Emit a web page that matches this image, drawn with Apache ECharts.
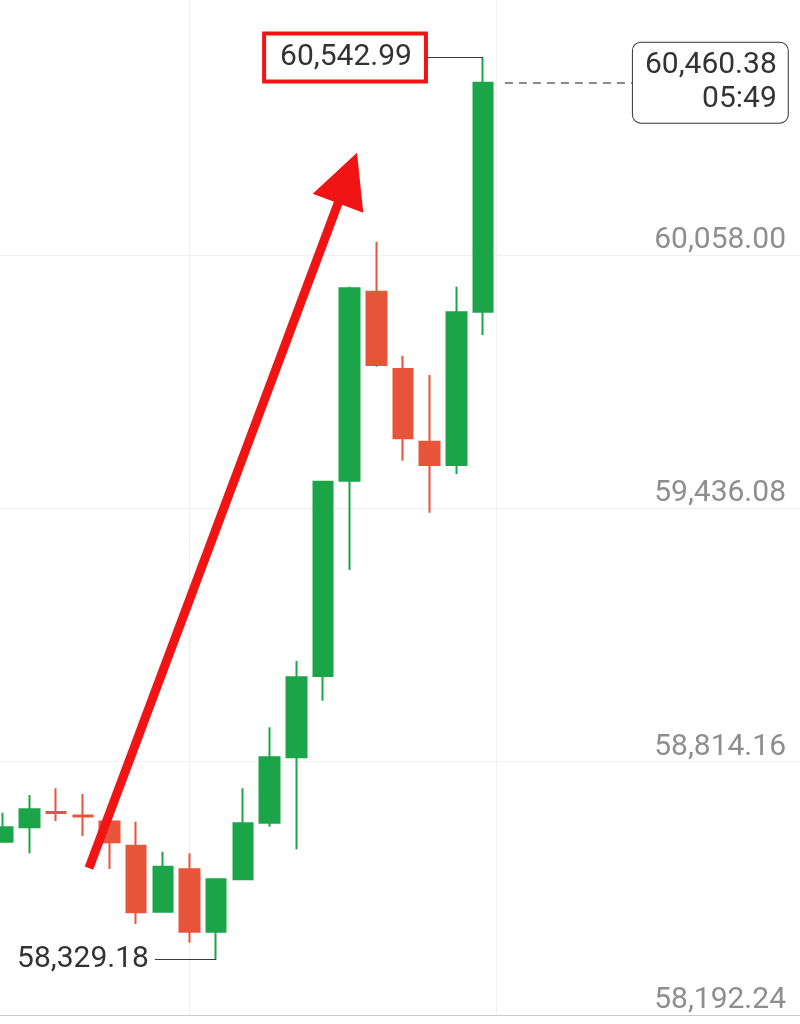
<!DOCTYPE html>
<html>
<head>
<meta charset="utf-8">
<script src="https://cdn.jsdelivr.net/npm/echarts@6/dist/echarts.min.js"></script>
<style>
html,body{margin:0;padding:0;background:#fff;}
#c{width:800px;height:1024px;}
</style>
</head>
<body>
<div id="c"></div>
<script>
// ---- data ----
const candleIdx = [0, 1, 2, 3, 4, 5, 6, 7, 8, 9, 10, 11, 12, 13, 14, 15, 16, 17, 18];
const opens  = [58617.7, 58653.1, 58690.6, 58682.0, 58667.3, 58607.9, 58445.9, 58550.0, 58396.8, 58525.4, 58664.4, 58824.9, 59024.5, 59503.9, 59967.9, 59778.1, 59599.7, 59542.5, 59918.8];
const closes = [58653.1, 58697.3, 58688.2, 58679.6, 58616.2, 58444.4, 58556.3, 58396.8, 58525.4, 58662.9, 58824.9, 59021.3, 59501.5, 59976.3, 59788.0, 59608.0, 59542.5, 59917.3, 60481.0];
const lows   = [58617.7, 58589.2, 58668.5, 58631.7, 58550.7, 58415.7, 58443.9, 58369.8, 58329.18, 58525.0, 58654.5, 58599.1, 58963.9, 59284.7, 59783.8, 59553.0, 59425.4, 59520.4, 59861.6];
const highs  = [58688.9, 58732.4, 58748.8, 58734.8, 58667.3, 58666.8, 58593.2, 58589.2, 58525.4, 58748.8, 58898.6, 59061.3, 59503.2, 59980.2, 60090.7, 59810.8, 59763.4, 59980.2, 60542.99];
const priceTicks = [58192.24, 58814.16, 59436.08, 60058.00];
const timeGrid = [7, 18.5];
const lastPrice = 60460.38;
const countdown = '05:49';
const arrowFrom = [3.23, 58553];
const arrowTo = [12.92, 60247];

// ---- layout constants ----
const X_MIN = -0.105, X_MAX = 29.88;
const Y_MAX = 60684;
const HI_LABEL_X = 15.86;
const LO_LABEL_X = 5.7;
const PRICE_LINE_X0 = 18.82, PRICE_LINE_X1 = 23.58;
const FONT = 'Roboto';
const FS = 30;
const GREEN = '#1ba548', RED = '#e8543a', ARROW = '#f01414';

const fmt = v => v.toLocaleString('en-US', {minimumFractionDigits: 2, maximumFractionDigits: 2});
const isTick = v => priceTicks.some(t => Math.abs(t - v) < 0.005);

const candleData = candleIdx.map((x, i) => [x, opens[i], closes[i], lows[i], highs[i]]);
const lastI = candleIdx.length - 1;
const hiVal = Math.max(...highs), hiI = highs.indexOf(hiVal);
const loVal = Math.min(...lows), loI = lows.indexOf(loVal);

const chart = echarts.init(document.getElementById('c'));
chart.setOption({
  animation: false,
  backgroundColor: '#ffffff',
  grid: {left: 0, right: 0, top: 0, bottom: 9},
  xAxis: {
    type: 'value', min: X_MIN, max: X_MAX,
    axisLabel: {show: false}, axisTick: {show: false}, splitLine: {show: false},
    axisLine: {show: true, onZero: false, lineStyle: {color: '#cacaca', width: 1}}
  },
  yAxis: {
    type: 'value', position: 'right', scale: true,
    min: priceTicks[0], max: Y_MAX, interval: priceTicks[1] - priceTicks[0],
    axisLine: {show: false}, axisTick: {show: false}, splitLine: {show: false},
    axisLabel: {
      inside: true, verticalAlign: 'bottom', margin: 14, lineHeight: 29,
      color: '#8e8e8e', fontFamily: FONT, fontSize: FS,
      showMaxLabel: false,
      formatter: v => isTick(v) ? fmt(v) : ''
    }
  },
  series: [
    {
      type: 'line', data: [], silent: true,
      markLine: {
        z: 1, silent: true, symbol: 'none', label: {show: false}, emphasis: {disabled: true},
        lineStyle: {color: '#f0f0f0', width: 1, type: 'solid'},
        data: [
          ...priceTicks.slice(1).map(v => ({yAxis: v})),
          ...timeGrid.map(v => ({xAxis: v}))
        ]
      }
    },
    {
      type: 'candlestick', data: candleData, barWidth: 20, silent: true,
      itemStyle: {color: GREEN, color0: RED, borderColor: GREEN, borderColor0: RED, borderWidth: 2},
      markLine: {
        silent: true, symbol: 'none', emphasis: {disabled: true},
        data: [
          [
            {coord: [candleIdx[hiI], hiVal],
             lineStyle: {color: '#3a3a3a', width: 1, type: 'solid'},
             label: {show: true, position: 'end', distance: 2, formatter: fmt(hiVal),
                     color: '#333', fontFamily: FONT, fontSize: FS, lineHeight: 26,
                     padding: [9, 12, 9, 14], borderColor: ARROW, borderWidth: 4, backgroundColor: '#fff'}},
            {coord: [HI_LABEL_X, hiVal]}
          ],
          [
            {coord: [candleIdx[loI], loVal],
             lineStyle: {color: '#3a3a3a', width: 1, type: 'solid'},
             label: {show: true, position: 'end', distance: 6, formatter: fmt(loVal),
                     color: '#333', fontFamily: FONT, fontSize: FS}},
            {coord: [LO_LABEL_X, loVal]}
          ],
          [
            {coord: [PRICE_LINE_X0, closes[lastI]],
             lineStyle: {color: '#666', width: 1.5, type: [8, 6]},
             label: {show: true, position: 'end', distance: 1,
                     formatter: '{p|' + fmt(lastPrice) + '}\n{t|' + countdown + '}',
                     backgroundColor: '#fff', borderColor: '#333', borderWidth: 1, borderRadius: 8,
                     padding: [6, 11, 6, 12],
                     rich: {
                       p: {align: 'right', color: '#333', fontFamily: FONT, fontSize: FS, lineHeight: 34},
                       t: {align: 'right', color: '#333', fontFamily: FONT, fontSize: FS, lineHeight: 34}
                     }}},
            {coord: [PRICE_LINE_X1, closes[lastI]]}
          ]
        ]
      }
    },
    {
      type: 'line', data: [], silent: true,
      markLine: {
        z: 6, silent: true, symbol: ['none', 'triangle'], symbolSize: [54, 54],
        label: {show: false}, emphasis: {disabled: true},
        lineStyle: {color: ARROW, width: 9, type: 'solid'},
        data: [[{coord: arrowFrom}, {coord: arrowTo}]]
      }
    }
  ]
});
</script>
</body>
</html>
